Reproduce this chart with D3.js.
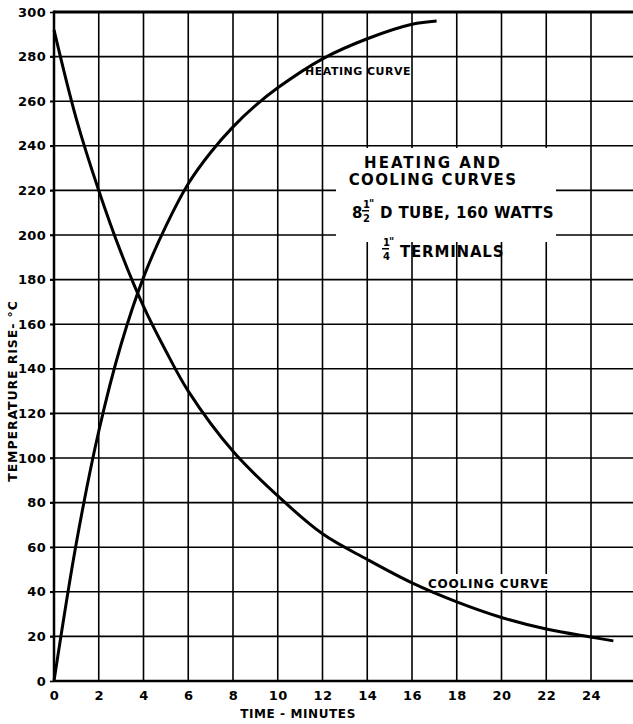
<!DOCTYPE html>
<html>
<head>
<meta charset="utf-8">
<script src="https://cdn.jsdelivr.net/npm/d3@7"></script>
<style>
  body { margin: 0; background: #fff; }
  text { font-family: "DejaVu Sans", sans-serif; font-weight: bold; fill: #000; }
</style>
</head>
<body>
<svg id="chart" width="633" height="724"></svg>
<script>
// data
var heatTime = [0, 1, 2, 3, 4, 5, 6, 7, 8, 9, 10, 12, 14, 16, 17.1]
var heatTemp = [0, 62, 112, 151, 181, 204, 223, 237, 248.5, 258, 266, 279, 288, 294.5, 296]
var coolTime = [0, 1, 2, 3, 4, 5, 6, 8, 10, 12, 14, 16, 18, 20, 22, 24, 25]
var coolTemp = [292, 252, 220, 192, 168, 148, 130, 103, 83, 66, 54.5, 44, 35.5, 28.5, 23.3, 19.7, 18]
var xTicks = [0, 2, 4, 6, 8, 10, 12, 14, 16, 18, 20, 22, 24]
var yTicks = d3.range(0, 301, 20)

var svg = d3.select("#chart")
const mLeft = 54, mRight = 633, mTop = 12, mBottom = 681

var x = d3.scaleLinear().domain([0, 24]).range([mLeft, 591])
var y = d3.scaleLinear().domain([0, 300]).range([mBottom, mTop])

// grid
svg.append("g")
    .selectAll("line")
    .data(xTicks.slice(1))
    .enter()
    .append("line")
    .attr("x1", d => x(d)).attr("x2", d => x(d))
    .attr("y1", mTop).attr("y2", mBottom)
    .attr("stroke", "#000").attr("stroke-width", 1.6)

svg.append("g")
    .selectAll("line")
    .data(yTicks.slice(1, -1))
    .enter()
    .append("line")
    .attr("x1", mLeft - 4).attr("x2", mRight)
    .attr("y1", d => y(d)).attr("y2", d => y(d))
    .attr("stroke", "#000").attr("stroke-width", 1.6)

// frame
svg.append("line").attr("x1", mLeft).attr("x2", mRight).attr("y1", mTop).attr("y2", mTop)
    .attr("stroke", "#000").attr("stroke-width", 3)
svg.append("line").attr("x1", mLeft).attr("x2", mRight).attr("y1", mBottom).attr("y2", mBottom)
    .attr("stroke", "#000").attr("stroke-width", 2.5)
svg.append("line").attr("x1", mLeft).attr("x2", mLeft).attr("y1", mTop - 1.5).attr("y2", mBottom + 1)
    .attr("stroke", "#000").attr("stroke-width", 2.5)

// axes (labels only)
var yAxis = svg.append("g")
    .attr("transform", "translate(" + mLeft + ",0)")
    .call(d3.axisLeft(y).tickValues(yTicks).tickSize(4).tickPadding(4))
yAxis.select(".domain").remove()
yAxis.selectAll("line").attr("stroke-width", 1.6)
yAxis.selectAll("text").style("font-size", "13px").style("font-family", "DejaVu Sans")
    .style("font-weight", "bold").attr("letter-spacing", 0.3)

var xAxis = svg.append("g")
    .attr("transform", "translate(0," + mBottom + ")")
    .call(d3.axisBottom(x).tickValues(xTicks).tickSize(0).tickPadding(10))
xAxis.select(".domain").remove()
xAxis.selectAll("text").style("font-size", "13px").style("font-family", "DejaVu Sans")
    .style("font-weight", "bold").attr("letter-spacing", 0.5)

// axis titles
svg.append("text")
    .attr("x", 298).attr("y", 718)
    .attr("text-anchor", "middle")
    .style("font-size", "12px").attr("letter-spacing", 0.6)
    .text("TIME - MINUTES")

svg.append("text")
    .attr("transform", "translate(17,391)rotate(-90)")
    .attr("text-anchor", "middle")
    .style("font-size", "12.5px").attr("letter-spacing", 0.9)
    .text("TEMPERATURE RISE- °C")

// white patches behind the labels
svg.append("rect").attr("x", 336).attr("y", 148).attr("width", 220).attr("height", 94).attr("fill", "#fff")
svg.append("rect").attr("x", 426).attr("y", 574).attr("width", 126).attr("height", 16).attr("fill", "#fff")

// curves
var line = d3.line()
    .x(d => x(d[0]))
    .y(d => y(d[1]))
    .curve(d3.curveCatmullRom.alpha(0.5))

svg.append("path")
    .datum(d3.zip(heatTime, heatTemp))
    .attr("d", line)
    .attr("fill", "none").attr("stroke", "#000").attr("stroke-width", 3)

svg.append("path")
    .datum(d3.zip(coolTime, coolTemp))
    .attr("d", line)
    .attr("fill", "none").attr("stroke", "#000").attr("stroke-width", 3)

// curve labels
svg.append("text").attr("x", 305).attr("y", 75)
    .style("font-size", "11px").attr("letter-spacing", 0.5)
    .text("HEATING CURVE")
svg.append("text").attr("x", 428).attr("y", 588)
    .style("font-size", "12px").attr("letter-spacing", 0.8)
    .text("COOLING CURVE")

// title block
svg.append("text").attr("x", 433).attr("y", 168)
    .attr("text-anchor", "middle").style("font-size", "15px").attr("letter-spacing", 2)
    .text("HEATING  AND")
svg.append("text").attr("x", 433).attr("y", 185)
    .attr("text-anchor", "middle").style("font-size", "15px").attr("letter-spacing", 1.4)
    .text("COOLING CURVES")

// 8 1/2" D TUBE, 160 WATTS
svg.append("text").attr("x", 352).attr("y", 218).style("font-size", "15px").text("8")
svg.append("text").attr("x", 363).attr("y", 208).style("font-size", "10px").text("1")
svg.append("text").attr("x", 363).attr("y", 222).style("font-size", "10px").text("2")
svg.append("rect").attr("x", 362).attr("y", 210).attr("width", 7).attr("height", 1.5).attr("fill", "#000")
svg.append("text").attr("x", 369).attr("y", 207).style("font-size", "10px").text("\"")
svg.append("text").attr("x", 380).attr("y", 218).style("font-size", "15px").attr("letter-spacing", 0.4)
    .text("D TUBE, 160 WATTS")

// 1/4" TERMINALS
svg.append("text").attr("x", 383).attr("y", 246).style("font-size", "10px").text("1")
svg.append("text").attr("x", 383).attr("y", 260).style("font-size", "10px").text("4")
svg.append("rect").attr("x", 382).attr("y", 248).attr("width", 7).attr("height", 1.5).attr("fill", "#000")
svg.append("text").attr("x", 389).attr("y", 245).style("font-size", "10px").text("\"")
svg.append("text").attr("x", 400).attr("y", 257).style("font-size", "15px").attr("letter-spacing", 0.8)
    .text("TERMINALS")
</script>
</body>
</html>
